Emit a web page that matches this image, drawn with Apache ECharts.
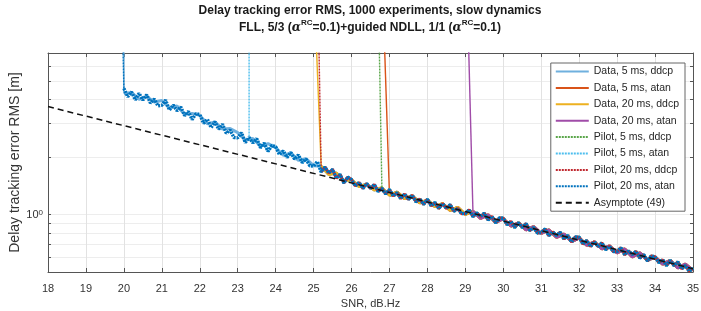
<!DOCTYPE html>
<html>
<head>
<meta charset="utf-8">
<script src="https://cdn.jsdelivr.net/npm/echarts@6/dist/echarts.min.js"></script>
<style>
html, body { margin: 0; padding: 0; background: #fff; }
#main { width: 701px; height: 311px; }
</style>
</head>
<body>
<div id="main"></div>
<script>
// tick labels
var snrTicks = [18, 19, 20, 21, 22, 23, 24, 25, 26, 27, 28, 29, 30, 31, 32, 33, 34, 35];
var rmsTicks = [0.5, 0.6, 0.7, 0.8, 0.9, 1, 2, 3, 4, 5, 6, 7];
var rmsLabels = [1];

var seriesNames = [
    'Data, 5 ms, ddcp', 'Data, 5 ms, atan', 'Data, 20 ms, ddcp', 'Data, 20 ms, atan',
    'Pilot, 5 ms, ddcp', 'Pilot, 5 ms, atan', 'Pilot, 20 ms, ddcp', 'Pilot, 20 ms, atan'
];
var seriesColors = ['#6fb0de', '#d95319', '#edb120', '#a04ca8', '#5aa64a', '#4dbeee', '#c0282f', '#0072bd'];
var isPilot = [false, false, false, false, true, true, true, true];
// SNR where the tracking loop loses lock (top of the vertical) and where it holds again
var lossSnr = [20.0, 26.85, 25.05, 29.07, 26.72, 23.3, 25.13, 19.96];
var lockSnr = [20.0, 26.9, 25.1, 29.2, 26.8, 23.3, 25.2, 20.0];
var divergedRms = 10;

// pilot RMS, SNR 20.0 .. 35.0 step 0.1
var pilotStart = 20, pilotStep = 0.1;
var pilotRms = [
    4.57, 4.13, 4.38, 3.98, 4.31, 3.97, 4.24, 3.83, 4.02, 3.70,
    3.73, 3.97, 3.52, 3.74, 3.49, 3.66, 3.29, 3.46, 3.14, 3.37,
    3.34, 3.00, 3.15, 2.85, 3.06, 2.79, 2.97, 2.66, 2.77, 2.53,
    2.52, 2.68, 2.38, 2.53, 2.37, 2.49, 2.24, 2.36, 2.14, 2.30,
    2.26, 2.06, 2.15, 1.99, 2.11, 1.95, 2.05, 1.87, 1.95, 1.80,
    1.79, 1.89, 1.67, 1.77, 1.65, 1.72, 1.55, 1.62, 1.46, 1.57,
    1.52, 1.41, 1.47, 1.37, 1.45, 1.37, 1.435, 1.32, 1.37, 1.28,
    1.35, 1.25, 1.30, 1.21, 1.28, 1.20, 1.26, 1.165, 1.205, 1.13,
    1.20, 1.11, 1.155, 1.075, 1.14, 1.075, 1.125, 1.04, 1.075, 1.01,
    1.013, 1.058, 0.975, 1.019, 0.977, 1.015, 0.936, 0.978, 0.905, 0.96,
    0.955, 0.885, 0.92, 0.855, 0.905, 0.855, 0.895, 0.825, 0.855, 0.80,
    0.806, 0.84, 0.775, 0.81, 0.777, 0.807, 0.744, 0.777, 0.719, 0.763,
    0.76, 0.70, 0.73, 0.68, 0.72, 0.68, 0.71, 0.655, 0.68, 0.64,
    0.64, 0.669, 0.616, 0.644, 0.618, 0.641, 0.591, 0.617, 0.571, 0.607,
    0.60, 0.56, 0.58, 0.54, 0.575, 0.54, 0.565, 0.52, 0.54, 0.505,
    0.524
];

// data channel RMS, SNR 20.0 .. 35.0 step 0.2
var dataStart = 20, dataStep = 0.2;
var dataRms = [
    4.30, 4.35, 4.00, 4.15, 3.88,
    3.95, 3.60, 3.70, 3.35, 3.38,
    3.30, 2.98, 3.05, 2.80, 2.82,
    2.68, 2.45, 2.50, 2.28, 2.35,
    2.24, 2.04, 2.10, 1.92, 1.96,
    1.80, 1.79, 1.62, 1.65, 1.50,
    1.52, 1.40, 1.44, 1.34, 1.38,
    1.26, 1.31, 1.21, 1.25, 1.15,
    1.19, 1.10, 1.14, 1.05, 1.09,
    1.00, 1.04, 0.955, 0.995, 0.91,
    0.95, 0.87, 0.905, 0.83, 0.865,
    0.795, 0.83, 0.76, 0.79, 0.72,
    0.755, 0.69, 0.72, 0.66, 0.685,
    0.63, 0.66, 0.60, 0.63, 0.575,
    0.60, 0.55, 0.575, 0.525, 0.55,
    0.51
];

var asymptoteSnr = [18, 35];
var asymptoteRms = [3.67, 0.52];

var font = 'Liberation Sans, Arial, sans-serif';

// points of a curve from the SNR where it holds lock
function lockedPart(k) {
    var vals = isPilot[k] ? pilotRms : dataRms;
    var start = isPilot[k] ? pilotStart : dataStart;
    var step = isPilot[k] ? pilotStep : dataStep;
    var pts = [];
    for (var i = 0; i < vals.length; i++) {
        var snr = Math.round((start + i * step) * 100) / 100;
        if (snr >= lockSnr[k]) pts.push([snr, vals[i]]);
    }
    return pts;
}

var series = [];
for (var k = 0; k < seriesNames.length; k++) {
    var locked = lockedPart(k);
    var dash = isPilot[k] ? [2, 1] : 'solid';
    // loss-of-lock drop, thin line (also used for the legend icon)
    series.push({
        name: seriesNames[k],
        type: 'line',
        data: [[lossSnr[k], divergedRms], locked[0]],
        symbol: 'none',
        clip: true,
        z: 2 + k,
        lineStyle: { color: seriesColors[k], width: 1.4, type: dash },
        itemStyle: { color: seriesColors[k] }
    });
    // locked part: many overlapping noisy runs -> a thick ribbon
    series.push({
        name: seriesNames[k],
        type: 'line',
        data: locked,
        symbol: 'none',
        clip: true,
        z: 2 + k,
        lineStyle: { color: seriesColors[k], width: k === 7 ? 3.4 : 3, type: dash },
        itemStyle: { color: seriesColors[k] }
    });
}
series.push({
    name: 'Asymptote (49)',
    type: 'line',
    data: asymptoteSnr.map(function (s, i) { return [s, asymptoteRms[i]]; }),
    symbol: 'none',
    z: 20,
    lineStyle: { color: '#111', width: 1.5, type: [6, 4] },
    itemStyle: { color: '#111' }
});

var axisColor = '#555';
var myChart = echarts.init(document.getElementById('main'));
var option = {
    animation: false,
    backgroundColor: '#fff',
    title: {
        text: 'Delay tracking error RMS, 1000 experiments, slow dynamics\nFLL, 5/3 ({a|α}{s|RC}=0.1)+guided NDLL, 1/1 ({a|α}{s|RC}=0.1)',
        left: 370,
        top: 2,
        padding: 0,
        textAlign: 'center',
        textStyle: {
            fontFamily: font, fontSize: 12, fontWeight: 'bold', color: '#1a1a1a', lineHeight: 17,
            rich: {
                a: { fontFamily: 'DejaVu Serif', fontStyle: 'italic', fontSize: 12, lineHeight: 17, color: '#1a1a1a' },
                s: { fontFamily: font, fontSize: 8, fontWeight: 'bold', verticalAlign: 'top', lineHeight: 11, color: '#1a1a1a' }
            }
        }
    },
    legend: {
        data: seriesNames.concat(['Asymptote (49)']),
        orient: 'vertical',
        right: 16,
        top: 63,
        backgroundColor: '#fff',
        borderColor: '#666',
        borderWidth: 1,
        borderRadius: 0,
        padding: [3, 6, 3, 4],
        itemWidth: 33,
        itemHeight: 10,
        itemGap: 5.4,
        itemStyle: { opacity: 0 },
        textStyle: { fontFamily: font, fontSize: 10.5, color: '#262626' }
    },
    grid: { left: 48, right: 8, top: 53, bottom: 39, containLabel: false, outerBoundsMode: 'none' },
    xAxis: [{
        type: 'value',
        min: snrTicks[0],
        max: snrTicks[snrTicks.length - 1],
        interval: 1,
        position: 'bottom',
        name: 'SNR, dB.Hz',
        nameLocation: 'middle',
        nameGap: 26,
        nameMoveOverlap: false,
        nameTextStyle: { fontFamily: font, fontSize: 11, color: '#333' },
        axisLine: { onZero: false, lineStyle: { color: axisColor } },
        axisTick: { inside: true, length: 4, lineStyle: { color: axisColor } },
        axisLabel: { fontFamily: font, fontSize: 11, color: '#333', margin: 11 },
        splitLine: { show: true, lineStyle: { color: '#e2e2e2' } }
    }, {
        type: 'value',
        min: snrTicks[0],
        max: snrTicks[snrTicks.length - 1],
        interval: 1,
        position: 'top',
        axisLine: { onZero: false, lineStyle: { color: axisColor } },
        axisTick: { inside: true, length: 4, lineStyle: { color: axisColor } },
        axisLabel: { show: false },
        splitLine: { show: false }
    }],
    yAxis: [{
        type: 'log',
        logBase: 10,
        min: rmsTicks[0],
        max: rmsTicks[rmsTicks.length - 1],
        position: 'left',
        name: 'Delay tracking error RMS [m]',
        nameLocation: 'middle',
        nameGap: 26,
        nameMoveOverlap: false,
        nameTextStyle: { fontFamily: font, fontSize: 14, color: '#333' },
        axisLine: { show: true, onZero: false, lineStyle: { color: axisColor } },
        axisTick: { show: true, inside: true, length: 3, customValues: rmsTicks, lineStyle: { color: axisColor } },
        axisLabel: {
            customValues: rmsLabels,
            fontFamily: font, fontSize: 11, color: '#333', margin: 5,
            formatter: function (v) { return Math.abs(v - 1) < 1e-6 ? '10{s|0}' : ''; },
            rich: { s: { fontFamily: font, fontSize: 8, verticalAlign: 'top', lineHeight: 10, color: '#333' } }
        },
        splitLine: { show: true, lineStyle: { color: '#ededed' } }
    }, {
        type: 'log',
        logBase: 10,
        min: rmsTicks[0],
        max: rmsTicks[rmsTicks.length - 1],
        position: 'right',
        axisLine: { show: true, onZero: false, lineStyle: { color: axisColor } },
        axisTick: { show: true, inside: true, length: 3, customValues: rmsTicks, lineStyle: { color: axisColor } },
        axisLabel: { show: false },
        splitLine: { show: false }
    }],
    series: series
};
myChart.setOption(option);
</script>
</body>
</html>
